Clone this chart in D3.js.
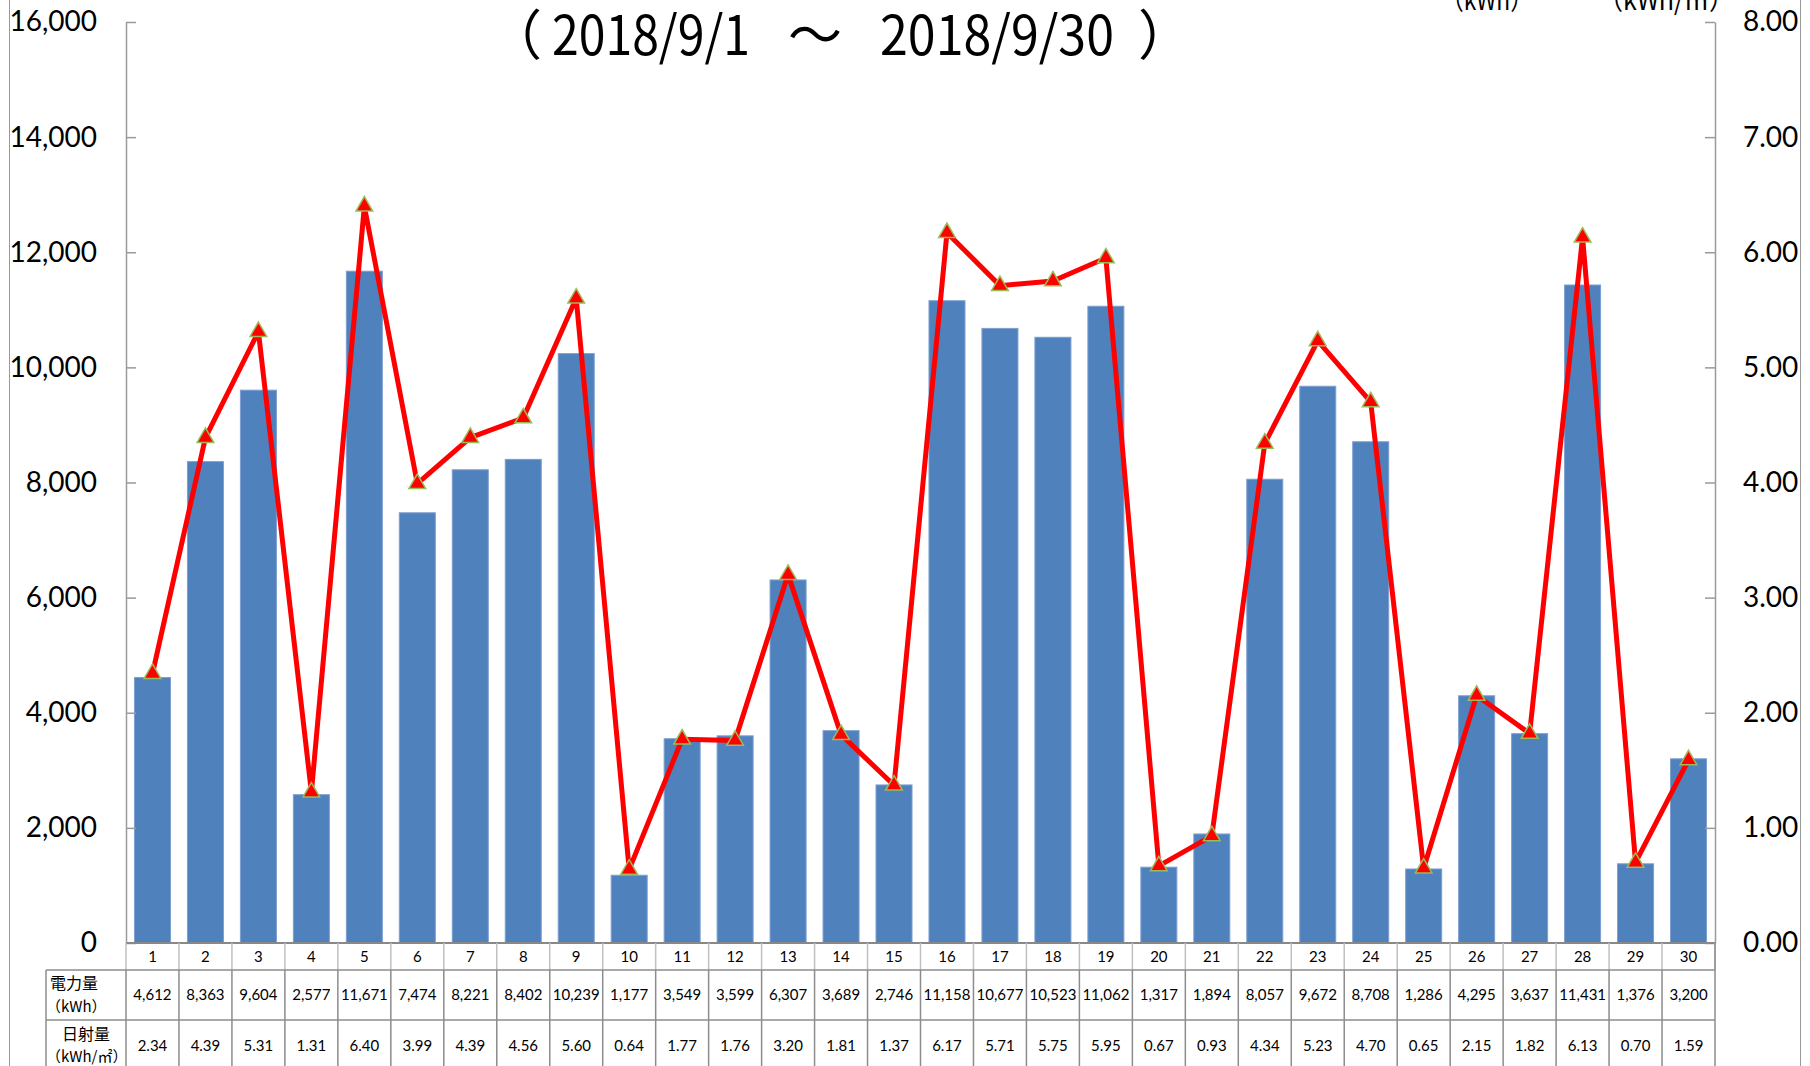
<!DOCTYPE html>
<html>
<head>
<meta charset="utf-8">
<script src="https://cdn.jsdelivr.net/npm/d3@7"></script>
<style>
body { margin: 0; background: #fff; }
svg { display: block; }
</style>
</head>
<body>
<div id="chart"></div>
<script>
// data (table under the chart)
var days = ["1","2","3","4","5","6","7","8","9","10","11","12","13","14","15",
            "16","17","18","19","20","21","22","23","24","25","26","27","28","29","30"];
var power = [4612, 8363, 9604, 2577, 11671, 7474, 8221, 8402, 10239, 1177,
             3549, 3599, 6307, 3689, 2746, 11158, 10677, 10523, 11062, 1317,
             1894, 8057, 9672, 8708, 1286, 4295, 3637, 11431, 1376, 3200];
var solar = [2.34, 4.39, 5.31, 1.31, 6.40, 3.99, 4.39, 4.56, 5.60, 0.64,
             1.77, 1.76, 3.20, 1.81, 1.37, 6.17, 5.71, 5.75, 5.95, 0.67,
             0.93, 4.34, 5.23, 4.70, 0.65, 2.15, 1.82, 6.13, 0.70, 1.59];
var leftTicks = [0, 2000, 4000, 6000, 8000, 10000, 12000, 14000, 16000];
var rightTicks = [0, 1, 2, 3, 4, 5, 6, 7, 8];
var titleParts = ["（", "2018/9/1", "～", "2018/9/30", "）"];
var unitLeft = "（kWh）", unitRight = "（kWh/㎡）";
var rowLabels = [["電力量", "（kWh）"], ["日射量", "（kWh/㎡）"]];

var width = 1810, height = 1066;
var latin = "Lato, 'Liberation Sans', sans-serif";
var jp = "'Noto Sans CJK JP', sans-serif";

var svg = d3.select("#chart").append("svg")
    .attr("width", width)
    .attr("height", height);

// outer chart border (only the sides are visible)
svg.append("line").attr("x1", 9.5).attr("x2", 9.5).attr("y1", 0).attr("y2", height)
    .attr("stroke", "#999").attr("stroke-width", 1);
svg.append("line").attr("x1", 1800.5).attr("x2", 1800.5).attr("y1", 0).attr("y2", height)
    .attr("stroke", "#999").attr("stroke-width", 1);

var x = d3.scaleBand().domain(days).range([126, 1715]);
var y = d3.scaleLinear().domain([0, 16000]).range([943, 22]);
var y2 = d3.scaleLinear().domain([0, 8]).range([943, 22]);

var barW = x.bandwidth() * 0.68;

// bars
svg.append("g").selectAll("rect")
    .data(power)
    .enter().append("rect")
    .attr("x", (d, i) => x(days[i]) + (x.bandwidth() - barW) / 2)
    .attr("y", d => y(d))
    .attr("width", barW)
    .attr("height", d => y(0) - y(d))
    .attr("fill", "#4f81bd")
    .attr("stroke", "#7d9fd1")
    .attr("stroke-width", 1);

// left axis
var ga = svg.append("g")
    .attr("transform", "translate(126,0)")
    .call(d3.axisLeft(y).tickValues(leftTicks).tickSizeInner(-10).tickSizeOuter(0)
        .tickPadding(29).tickFormat(d3.format(",")));
// right axis
var gb = svg.append("g")
    .attr("transform", "translate(1715,0)")
    .call(d3.axisRight(y2).tickValues(rightTicks).tickSizeInner(-10).tickSizeOuter(0)
        .tickPadding(28).tickFormat(d3.format(".2f")));

[ga, gb].forEach(function(g){
    g.select(".domain").attr("stroke", "#9a9a9a").attr("stroke-width", 1.5);
    g.selectAll(".tick line").attr("stroke", "#9a9a9a").attr("stroke-width", 1.5);
    g.selectAll(".tick text").attr("font-family", latin).attr("font-size", 28).attr("fill", "#000");
});

// category axis line
svg.append("line").attr("x1", 126).attr("x2", 1715).attr("y1", 943).attr("y2", 943)
    .attr("stroke", "#888").attr("stroke-width", 2);

// data table under the plot
var tbl = svg.append("g");
var dark = "#8c8c8c", light = "#c0c0c0";
var edges = days.map(d => x(d)).concat([x.range()[1]]);

// vertical cell lines
tbl.selectAll("line.cv")
    .data(edges)
    .enter().append("line")
    .attr("class", "cv")
    .attr("x1", d => d).attr("x2", d => d)
    .attr("y1", 943).attr("y2", 970)
    .attr("stroke", light).attr("stroke-width", 1.5);
tbl.selectAll("line.dv")
    .data(edges)
    .enter().append("line")
    .attr("class", "dv")
    .attr("x1", d => d).attr("x2", d => d)
    .attr("y1", 970).attr("y2", height)
    .attr("stroke", dark).attr("stroke-width", 1.5);
tbl.append("line").attr("x1", 1715).attr("x2", 1715).attr("y1", 943).attr("y2", 970)
    .attr("stroke", dark).attr("stroke-width", 1.5);
tbl.append("line").attr("x1", 46).attr("x2", 46).attr("y1", 970).attr("y2", height)
    .attr("stroke", dark).attr("stroke-width", 1.5);
[970, 1020].forEach(function(yy){
    tbl.append("line").attr("x1", 46).attr("x2", 1715).attr("y1", yy).attr("y2", yy)
        .attr("stroke", dark).attr("stroke-width", 1.5);
});

// day numbers
tbl.selectAll("text.day")
    .data(days)
    .enter().append("text")
    .attr("class", "day")
    .attr("x", d => x(d) + x.bandwidth() / 2)
    .attr("y", 957)
    .attr("dy", "0.35em")
    .attr("text-anchor", "middle")
    .attr("font-family", latin)
    .attr("font-size", 15)
    .text(d => d);

// values
tbl.selectAll("text.pw")
    .data(power)
    .enter().append("text")
    .attr("class", "pw")
    .attr("x", (d, i) => x(days[i]) + x.bandwidth() / 2)
    .attr("y", 995)
    .attr("dy", "0.35em")
    .attr("text-anchor", "middle")
    .attr("font-family", latin)
    .attr("font-size", 15)
    .text(d => d3.format(",")(d));
tbl.selectAll("text.sl")
    .data(solar)
    .enter().append("text")
    .attr("class", "sl")
    .attr("x", (d, i) => x(days[i]) + x.bandwidth() / 2)
    .attr("y", 1046)
    .attr("dy", "0.35em")
    .attr("text-anchor", "middle")
    .attr("font-family", latin)
    .attr("font-size", 15)
    .text(d => d3.format(".2f")(d));

// row headers
tbl.append("text").attr("x", 50).attr("y", 989).attr("font-family", jp).attr("font-size", 16)
    .text(rowLabels[0][0]);
tbl.append("text").attr("x", 46).attr("y", 1012).attr("font-family", jp).attr("font-size", 15)
    .text(rowLabels[0][1]);
tbl.append("text").attr("x", 86).attr("y", 1040).attr("text-anchor", "middle")
    .attr("font-family", jp).attr("font-size", 16).text(rowLabels[1][0]);
tbl.append("text").attr("x", 46).attr("y", 1062).attr("font-family", jp).attr("font-size", 15)
    .text(rowLabels[1][1]);

// irradiance line
var line = d3.line()
    .x((d, i) => x(days[i]) + x.bandwidth() / 2)
    .y(d => y2(d));
svg.append("path")
    .datum(solar)
    .attr("d", line)
    .attr("fill", "none")
    .attr("stroke", "#ff0000")
    .attr("stroke-width", 5)
    .attr("stroke-linejoin", "round");

svg.append("g").selectAll("path")
    .data(solar)
    .enter().append("path")
    .attr("d", d3.symbol().type(d3.symbolTriangle).size(120))
    .attr("transform", (d, i) => "translate(" + (x(days[i]) + x.bandwidth() / 2) + "," + y2(d) + ")")
    .attr("fill", "#ff0000")
    .attr("stroke", "#9bbb59")
    .attr("stroke-width", 1.5);

// title: pieces placed one by one to keep the wide gaps of the original
var tx = [488, 552, 788, 880, 1138];
var tlen = [null, 198, null, 234, null];
var title = svg.append("text")
    .attr("y", 55)
    .attr("font-family", jp)
    .attr("font-size", 54);
titleParts.forEach(function(p, i){
    var ts = title.append("tspan").attr("x", tx[i]).text(p);
    if (tlen[i]) ts.attr("textLength", tlen[i]).attr("lengthAdjust", "spacingAndGlyphs");
});

// unit labels (partly cut off at the top, as in the original)
svg.append("text")
    .attr("x", 1441).attr("y", 10)
    .attr("font-family", jp).attr("font-size", 28)
    .attr("textLength", 92).attr("lengthAdjust", "spacingAndGlyphs")
    .text(unitLeft);
svg.append("text")
    .attr("x", 1598).attr("y", 10)
    .attr("font-family", jp).attr("font-size", 28)
    .attr("textLength", 136).attr("lengthAdjust", "spacingAndGlyphs")
    .text(unitRight);
</script>
</body>
</html>
